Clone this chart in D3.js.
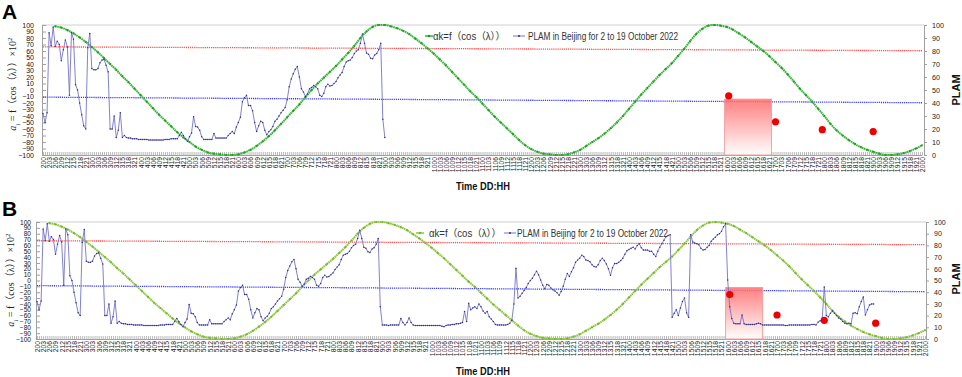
<!DOCTYPE html>
<html><head><meta charset="utf-8">
<script src="https://cdn.jsdelivr.net/npm/d3@7/dist/d3.min.js"></script>
<style>body{margin:0;background:#fff}svg{display:block}</style>
</head><body>
<svg id="c" width="962" height="377"></svg>
<script>
// ---------------- DATA ----------------
const tickLabels = [
"200","203","206","209","212","215","218","221",
"300","303","306","309","312","315","318","321",
"400","403","406","409","412","415","418","421",
"500","503","506","509","512","515","518","521",
"600","603","606","609","612","615","618","621",
"700","703","706","709","712","715","718","721",
"800","803","806","809","812","815","818","821",
"900","903","906","909","912","915","918","921",
"1000","1003","1006","1009","1012","1015","1018","1021",
"1100","1103","1106","1109","1112","1115","1118","1121",
"1200","1203","1206","1209","1212","1215","1218","1221",
"1300","1303","1306","1309","1312","1315","1318","1321",
"1400","1403","1406","1409","1412","1415","1418","1421",
"1500","1503","1506","1509","1512","1515","1518","1521",
"1600","1603","1606","1609","1612","1615","1618","1621",
"1700","1703","1706","1709","1712","1715","1718","1721",
"1800","1803","1806","1809","1812","1815","1818","1821",
"1900","1903","1906","1909","1912","1915","1918","1921",
"2000"];
const leftTicks = [-100,-90,-80,-70,-60,-50,-40,-30,-20,-10,0,10,20,30,40,50,60,70,80,90,100];
const rightTicks = [0,10,20,30,40,50,60,70,80,90,100];

// alpha_k = f(cos(lambda)) x 10^2, one value per tick label (3-hourly)
const alphaK = [null,null,
98,96,92,87,81,74,66,58,49,40,31,21,12,2,-8,-18,-28,-38,-47,-56,-65,-73,-80,-87,-92,-96,-98,-99,-100,
-100,-99,-96,-92,-86,-79,-71,-62,-52,-42,-32,-22,-11,0,10,19,28,37,47,57,68,80,90,97,100,
100,98,95,91,86,79,72,64,56,47,38,28,18,8,-2,-11,-21,-31,-41,-50,-59,-68,-77,-85,-91,-95,-98,-99,-100,
-100,-99,-96,-92,-86,-80,-74,-67,-59,-50,-40,-29,-18,-7,3,13,23,32,41,52,63,75,86,94,99,100,
99,97,93,87,81,74,67,60,52,43,34,24,13,2,-8,-18,-29,-40,-52,-62,-70,-77,-83,-88,-92,-95,-98,-100,-100,-99,-97,-94,-90,-85];

// PLAM, hourly from 2 Oct 00:00
const plamA = [
32,25,32.5,94,84,98.5,83.5,87.5,85,72.5,
81,88.5,83,46,94,89,54,50,40,31,
22.5,20,82.5,93.5,66.5,65.5,65.5,66.5,71,73,
73.5,69,64,20,20,30,13.5,19,32.5,13.5,
15,13.5,13,13,12.5,12.5,12.5,12,12,12,
12,12,11.5,11.5,11.5,11.5,11.5,11.5,11.5,11.5,
12,12,12,12.5,12.5,12.5,12.5,15,17.5,15,
12.5,10.5,14,17,29.5,22,21.5,19,14,12,
12,12,12,12,16.5,13,13,13,13,13,
13,15,16.5,18,16.5,21.5,25,29,41,44,
46,38,38,34,25,18,22.5,26,25,19,
15.5,18,19.5,22,26,27.5,30,32.5,34.5,36.5,
42.5,52.5,58.5,62.5,66,68,60,51,48.5,45,
47,51,52,53.5,52.5,51,46,45,47.5,52.5,
54.5,53,53.5,55,56.5,59.5,61.5,63.5,68,71.5,
72.5,73,75,78,80,81,86,93,86,78.5,
77.5,74.5,74,77,78,81,86,27.5,13.5];

const plamB = [
32,25,32.5,94,84,98.5,83.5,87.5,85,72.5,
81,88.5,83,46,94,89,54,50,40,31,
22.5,20,82.5,93.5,66.5,65.5,65.5,66.5,71,73,
73.5,69,64,20,20,30,13.5,19,32.5,13.5,
15,13.5,13,13,12.5,12.5,12.5,12,12,12,
12,12,11.5,11.5,11.5,11.5,11.5,11.5,11.5,11.5,
12,12,12,12.5,12.5,12.5,12.5,15,17.5,15,
12.5,10.5,14,17,29.5,22,21.5,19,14,12,
12,12,12,12,16.5,13,13,13,13,13,
13,15,16.5,18,16.5,21.5,25,29,41,44,
46,38,38,34,25,18,22.5,26,25,19,
15.5,18,19.5,22,26,27.5,30,32.5,34.5,36.5,
42.5,52.5,58.5,62.5,66,68,60,51,48.5,45,
47,51,52,53.5,52.5,51,46,45,47.5,52.5,
54.5,53,53.5,55,56.5,59.5,61.5,63.5,68,71.5,
72.5,73,75,78,80,81,86,93,86,78.5,
77.5,74.5,74,77,78,81,86,27.5,12,12,
12,11.5,12,12,12,12,12,17.5,14,12,
14,18,14,12,11.5,11.5,11.5,11.5,11.5,11.5,
11.5,11.5,11.5,11.5,11.5,11.5,11.5,11,10.5,11.5,
12,12,12.5,12.5,13,13,13.5,14,23.5,15,
30.5,25,26.5,27.5,26,30,27.5,24,22,23.5,
19,17,15,12.5,12,12,12,12,12,12.5,
13.5,16,30,60.5,35,36.5,39,41.5,44,47.5,
50,52,55,58,55,50.5,46,43,46.5,46,
43.5,42,41,39.5,37.5,40.5,45,51,56,53.5,
57.5,61,65.5,67.5,69,71.5,70.5,67.5,67,66,
63.5,62,61.5,63.5,67,69,67,64,60,54.5,
61,64.5,64.5,65.5,67,69,72.5,75.5,76.5,77.5,
78.5,77,80,81.5,78,76,76,76,75,75,
72.5,70.5,75,78.5,81.5,84.5,87.5,88.5,89,18.5,
22,25,20,26.5,32,35,22.5,18.5,89,83,
82,81.5,80.5,77.5,76,76.5,78.5,80,83.5,85.5,
87,89,90,92,96,98.5,50.5,27.5,17.5,13.5,
13,13,13,20.5,13,12.5,12.5,12.5,12.5,12.5,
13,13.5,13,12,12,12,12,12,12,12,
12,12,12,12,11.5,11.5,12,12,12,12,
12,12,12,12,12,12,12,12.5,12.5,12,
14.5,15.5,17.5,44.5,20,19,22,24,22,20,
18,17,15,13.5,13,13.5,13,22,22.5,21.5,
27.5,32,36,20.5,25,29,30,30];

const redDotLabels = ["1601","1700","1723","1900"];
const redDotsA = [45.5,25.5,19.5,18];
const redDotsB = [38,20.5,16,13.5];
const boxA = ["1523","1622"];
const boxB = ["1523","1617"];
const boxTopA = 43, boxTopB = 44;
const redTrendA = [83.2,80.2], blueTrendA = [44.5,40.2];
const redTrendB = [84,80.6], blueTrendB = [45.6,40.4];

const legendGreen = "\u03b1k=f\uff08cos\uff08\u03bb\uff09\uff09";
const legendBlue = "PLAM in Beijing for 2 to 19 October 2022";

// ---------------- DRAW ----------------
const svg = d3.select("#c");
const hourOf = l => (+l.slice(0, -2) - 2) * 24 + (+l.slice(-2));
const FONT = "'Liberation Sans', Arial, sans-serif";

const defs = svg.append("defs");
const grad = defs.append("linearGradient").attr("id","boxg").attr("x1",0).attr("y1",0).attr("x2",0).attr("y2",1);
grad.append("stop").attr("offset","0%").attr("stop-color","#ff6b6b").attr("stop-opacity",0.85);
grad.append("stop").attr("offset","100%").attr("stop-color","#ffffff").attr("stop-opacity",0.9);

const panels = [
 {letter:"A", plam:plamA, dots:redDotsA, box:boxA, boxTop:boxTopA, red:redTrendA, blue:blueTrendA,
  green:"#35b535", greenDot:"#1f9f1f", x0:43, x1:922, fL:42, fR:924, yT:25, yB:155,
  lPad:8, lFont:7, rFont:7.2, letterY:19, titleY:190, ytX:12, ytY:84, plY:90, legY:36, legG:425, legGT:433, legGW:72, legB:513, legBT:528, legBW:150},
 {letter:"B", plam:plamB, dots:redDotsB, box:boxB, boxTop:boxTopB, red:redTrendB, blue:blueTrendB,
  green:"#8cc63f", greenDot:"#79b52e", x0:37, x1:925, fL:36, fR:926, yT:222, yB:339,
  lPad:5, lFont:6.6, rFont:7, letterY:216, titleY:375, ytX:10, ytY:280, plY:279, legY:233, legG:416, legGT:429, legGW:72, legB:504, legBT:517, legBW:151}
];

panels.forEach(p => {
  const g = svg.append("g");
  const xs = d3.scaleLinear().domain([0, 432]).range([p.x0, p.x1]);
  const yL = d3.scaleLinear().domain([-100, 100]).range([p.yB, p.yT]);
  const yR = d3.scaleLinear().domain([0, 100]).range([p.yB, p.yT]);

  // frame
  g.append("line").attr("x1",p.fL).attr("x2",p.fR).attr("y1",p.yT).attr("y2",p.yT).attr("stroke","#d0d0d0").attr("stroke-width",1);

  // hourly minor ticks along bottom
  const minor = g.append("g").attr("transform",`translate(0,${p.yB})`)
    .call(d3.axisBottom(xs).tickValues(d3.range(0, 433)).tickSize(-3).tickFormat(""));
  minor.select(".domain").remove();
  minor.selectAll("line").attr("stroke","#a8a8a8").attr("stroke-width",0.8);

  // bottom labelled axis
  const bx = g.append("g").attr("transform",`translate(0,${p.yB})`)
    .call(d3.axisBottom(xs).tickValues(tickLabels.map(hourOf)).tickSize(0)
      .tickFormat((d,i) => tickLabels[i]));
  bx.select(".domain").attr("stroke","#a0a0a0");
  bx.selectAll("text").attr("transform","rotate(-90)").attr("text-anchor","end")
    .attr("x",-2).attr("y",0).attr("dy","0.35em")
    .style("font-family",FONT).style("font-size","6.8px").attr("fill","#222");

  // left axis
  const la = g.append("g").attr("transform",`translate(${p.fL},0)`)
    .call(d3.axisLeft(yL).tickValues(leftTicks).tickSize(-4).tickPadding(p.lPad));
  la.select(".domain").attr("stroke","#a0a0a0");
  la.selectAll("line").attr("stroke","#a0a0a0");
  la.selectAll("text").style("font-family",FONT).style("font-size",p.lFont+"px").attr("fill","#111");

  // right axis
  const ra = g.append("g").attr("transform",`translate(${p.fR},0)`)
    .call(d3.axisRight(yR).tickValues(rightTicks).tickSize(3).tickPadding(5));
  ra.select(".domain").attr("stroke","#a0a0a0");
  ra.selectAll("line").attr("stroke","#a0a0a0");
  ra.selectAll("text").style("font-family",FONT).style("font-size",p.rFont+"px").attr("fill","#222");

  // trend lines
  [[p.red,"#ff4a4a"],[p.blue,"#3a3aff"]].forEach(([v,c]) => {
    g.append("line").attr("x1",xs(0)).attr("x2",xs(432)).attr("y1",yR(v[0])).attr("y2",yR(v[1]))
      .attr("stroke",c).attr("stroke-width",1.3).attr("stroke-dasharray","1.2,0.9");
  });

  // pink box
  const bh0 = hourOf(p.box[0]), bh1 = hourOf(p.box[1]);
  g.append("rect").attr("x",xs(bh0)).attr("y",yR(p.boxTop)).attr("width",xs(bh1)-xs(bh0))
    .attr("height",yR(0)-yR(p.boxTop)).attr("fill","url(#boxg)").attr("stroke","#f29a9a").attr("stroke-width",0.9);

  // green alpha_k
  const gpts = alphaK.map((v,i) => [i*3, v]).filter(d => d[1] !== null);
  g.append("path").datum(gpts)
    .attr("d", d3.line().x(d => xs(d[0])).y(d => yL(d[1])).curve(d3.curveMonotoneX))
    .attr("fill","none").attr("stroke",p.green).attr("stroke-width",2).attr("stroke-dasharray","1.6,0.5");
  g.selectAll(".gdot").data(gpts).enter().append("circle")
    .attr("cx",d => xs(d[0])).attr("cy",d => yL(d[1])).attr("r",1.1).attr("fill",p.greenDot);

  // blue PLAM
  const bpts = p.plam.map((v,i) => [i, v]);
  g.append("path").datum(bpts)
    .attr("d", d3.line().x(d => xs(d[0])).y(d => yR(d[1])))
    .attr("fill","none").attr("stroke","#7474cc").attr("stroke-width",0.9);
  g.selectAll(".bdot").data(bpts).enter().append("circle")
    .attr("cx",d => xs(d[0])).attr("cy",d => yR(d[1])).attr("r",0.75).attr("fill","#2e2e8a");

  // red dots
  g.selectAll(".rdot").data(redDotLabels).enter().append("circle")
    .attr("cx",d => xs(hourOf(d))).attr("cy",(d,i) => yR(p.dots[i])).attr("r",3.6).attr("fill","#ee0000");

  // legend
  g.append("line").attr("x1",p.legG).attr("x2",p.legG+8).attr("y1",p.legY).attr("y2",p.legY).attr("stroke",p.green).attr("stroke-width",1.5);
  g.append("circle").attr("cx",p.legG+4).attr("cy",p.legY).attr("r",1.3).attr("fill",p.greenDot);
  g.append("text").attr("x",p.legGT).attr("y",p.legY+3.5).text(legendGreen)
    .attr("textLength",p.legGW).attr("lengthAdjust","spacingAndGlyphs")
    .style("font-family","'Liberation Sans','Noto Sans CJK SC',sans-serif").style("font-size","10px").attr("fill","#333");
  g.append("line").attr("x1",p.legB).attr("x2",p.legB+12).attr("y1",p.legY).attr("y2",p.legY).attr("stroke","#7474cc").attr("stroke-width",1);
  g.append("circle").attr("cx",p.legB+6).attr("cy",p.legY).attr("r",1).attr("fill","#2e2e8a");
  g.append("text").attr("x",p.legBT).attr("y",p.legY+3.5).text(legendBlue)
    .attr("textLength",p.legBW).attr("lengthAdjust","spacingAndGlyphs")
    .style("font-family",FONT).style("font-size","10px").attr("fill","#333");

  // panel letter
  g.append("text").attr("x",2).attr("y",p.letterY).text(p.letter)
    .style("font-family",FONT).style("font-weight","bold").style("font-size","21px").attr("fill","#000");

  // x title
  g.append("text").attr("x",483).attr("y",p.titleY).attr("text-anchor","middle").text("Time DD:HH")
    .attr("textLength",54).attr("lengthAdjust","spacingAndGlyphs")
    .style("font-family",FONT).style("font-weight","bold").style("font-size","11px").attr("fill","#111");

  // right title
  g.append("text").attr("transform",`translate(960,${p.plY}) rotate(-90)`).attr("text-anchor","middle").text("PLAM")
    .style("font-family",FONT).style("font-weight","bold").style("font-size","11px").attr("fill","#111");

  // left title
  const yt = g.append("text").attr("transform",`translate(${p.ytX+3.5},${p.ytY}) rotate(-90)`).attr("text-anchor","middle")
    .style("font-family","'Liberation Serif','Noto Sans CJK SC',serif").style("font-size","10px").attr("fill","#222");
  yt.append("tspan").style("font-style","italic").text("a");
  yt.append("tspan").attr("baseline-shift","sub").style("font-size","7px").text("i");
  yt.append("tspan").text(" = f\uff08cos\uff08\u03bb\uff09\uff09\u00d710");
  yt.append("tspan").attr("baseline-shift","super").style("font-size","7px").text("2");
});
</script>
</body></html>
